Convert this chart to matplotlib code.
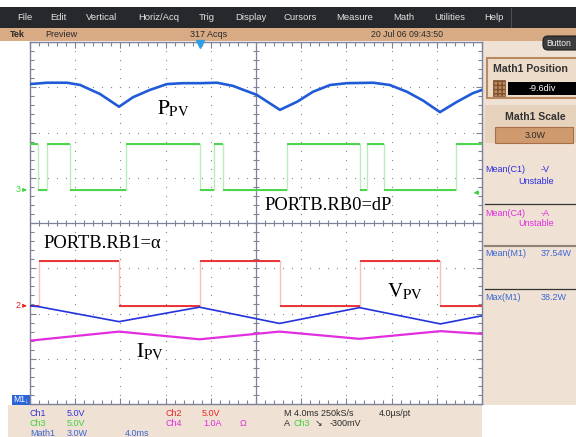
#
# Scope capture: PV power, voltage, current and the two MPPT port bits
#
import numpy as np
import matplotlib.pyplot as plt
from matplotlib.patches import Rectangle, FancyBboxPatch

plt.rcParams['font.family'] = ['Liberation Sans', 'DejaVu Sans']
plt.rcParams['mathtext.fontset'] = 'stix'

# Trace data, in screen divisions (10 x 8 div, 4 ms/div)
##########################################################################################

# Math1 = PV power
ppv_t = [0.00, 0.38, 0.82, 1.11, 1.55, 1.97, 2.28, 2.65, 3.03, 3.38, 3.76, 4.14, 4.49, 5.02,
         5.53, 5.91, 6.26, 6.64, 7.01, 7.59, 7.96, 8.34, 8.69, 9.07, 9.45, 9.80, 10.00]
ppv = [7.07, 7.10, 7.10, 7.05, 6.85, 6.57, 6.78, 6.94, 7.07, 7.09, 7.09, 7.10, 7.03, 6.83,
       6.50, 6.68, 6.90, 7.05, 7.09, 7.10, 7.05, 6.90, 6.71, 6.45, 6.68, 6.87, 6.94]

# Ch1 = PV voltage
vpv_t = [0.00, 0.20, 1.97, 3.75, 5.52, 7.29, 9.08, 10.00]
vpv = [2.17, 2.15, 1.82, 2.14, 1.78, 2.13, 1.77, 1.95]

# Ch4 = PV current
ipv_t = [0.00, 1.97, 3.75, 5.52, 7.29, 9.08, 10.00]
ipv = [1.40, 1.60, 1.43, 1.60, 1.44, 1.61, 1.55]

# Ch3 = PORTB.RB0 (sign of dP), edges and logic state of each segment
rb0_t = [0.00, 0.18, 0.37, 0.88, 2.12, 3.75, 4.08, 4.26, 5.69, 7.29, 7.46, 7.84, 9.42, 10.00]
rb0_bits = [1, 0, 1, 0, 1, 0, 1, 0, 1, 0, 1, 0, 1]
rb0_levels = (4.73, 5.74)

# Ch2 = PORTB.RB1 (alpha)
rb1_t = [0.00, 0.20, 1.97, 3.75, 5.52, 7.29, 9.08, 10.00]
rb1_bits = [0, 1, 0, 1, 0, 1, 0]
rb1_levels = (2.17, 3.16)

trig_level = -0.3      # V on Ch3, 5 V/div
menu_items = ['File', 'Edit', 'Vertical', 'Horiz/Acq', 'Trig', 'Display', 'Cursors',
              'Measure', 'Math', 'Utilities', 'Help']

W, H = 576, 437
L, R, T, B = 30, 482, 42, 404   # graticule in pixels

GRAT = '#7d8299'
BLUE_P = '#1f5bd6'
BLUE_V = '#2233dd'
GREEN = '#3fd43f'
RED = '#e8262a'
MAG = '#e02ee0'
MBLUE = '#3a66d6'
DARK = '#2b2b2b'
PANEL = '#efe1d3'


def to_px(xd, yd):
    return L + xd * (R - L) / 10, B - yd * (B - T) / 8


fig = plt.figure(figsize=(W / 100, H / 100), dpi=100)
fig.patch.set_facecolor('white')
bg = fig.add_axes([0, 0, 1, 1])
bg.set_xlim(0, W)
bg.set_ylim(H, 0)
bg.axis('off')


def box(x, y, w, h, fc, ec='none', lw=0, **kw):
    bg.add_patch(Rectangle((x, y), w, h, facecolor=fc, edgecolor=ec, linewidth=lw, **kw))


def label(x, y, s, color=DARK, size=6.5, **kw):
    bg.text(x, y, s, color=color, fontsize=size, va='center', **kw)


# menu bar + status bar
box(0, 7, W, 21, '#26282c')
menu_x = [17, 50, 86, 138, 199, 235, 284, 336, 393, 434, 484]
for name, x in zip(menu_items, menu_x):
    label(x, 17.5, name, color='#e2e2e2', size=6.8)
bg.plot([511, 511], [8, 27], color='#4c4e54', lw=0.8)

box(0, 28, W, 13, '#d9ab84')
label(10, 34.5, 'Tek', size=6.5, fontweight='bold')
label(45, 34.5, 'Preview', size=6.5)
label(190, 34.5, '317 Acqs', size=6.5)
label(371, 34.5, '20 Jul 06 09:43:50', size=6.3)

# side and bottom panels
box(482, 41, W - 482, 364, PANEL)
box(8, 405, 474, 32, PANEL)

bg.add_patch(FancyBboxPatch((543, 36), 40, 14, boxstyle='round,pad=0,rounding_size=5',
                            facecolor='#3c3c3c', edgecolor='#1e1e1e', linewidth=0.8))
label(546, 43.5, 'Button', color='#f0f0f0', size=6.2)

# Math1 position / scale controls
box(487, 58, 95, 40, '#eddcca', ec='#b98a62', lw=1.5)
label(493, 69, 'Math1 Position', color='#333333', size=7.6, fontweight='bold')
box(493, 80, 12, 16, '#c08a5c', ec='#7a5030', lw=0.5, hatch='++++')
box(508, 82, 72, 13, 'black')
label(542, 88.5, '-9.6div', color='white', size=6.5, ha='center')

box(485, 105, 95, 38, '#e7d2be')
label(535, 117, 'Math1 Scale', color='#333333', size=7.6, fontweight='bold', ha='center')
box(495, 127, 78, 16, '#cf9b6e', ec='#a87048', lw=0.8)
label(535, 135.5, '3.0W', color=DARK, size=6.5, ha='center')

# measurement readouts
label(485, 169, 'Mean(C1)', color='#2c2ce0')
label(541, 169, '-V', color='#2c2ce0')
label(518, 182, 'Unstable', color='#2c2ce0')
bg.plot([485, W], [204, 204], color='#333333', lw=0.9)
label(485, 213, 'Mean(C4)', color=MAG)
label(541, 213, '-A', color=MAG)
label(518, 223, 'Unstable', color=MAG)
bg.plot([485, W], [246, 246], color='#8f8477', lw=1.5)
label(485, 254, 'Mean(M1)', color=MBLUE)
label(541, 254, '37.54W', color=MBLUE)
bg.plot([485, W], [289, 289], color='#333333', lw=0.9)
label(485, 298, 'Max(M1)', color=MBLUE)
label(541, 298, '38.2W', color=MBLUE)

# channel settings
label(30, 414, 'Ch1', color='#3434d8')
label(67, 414, '5.0V', color='#3434d8')
label(166, 414, 'Ch2', color=RED)
label(202, 414, '5.0V', color=RED)
label(284, 414, 'M 4.0ms 250kS/s')
label(379, 414, '4.0\u00b5s/pt')
label(30, 424, 'Ch3', color=GREEN)
label(67, 424, '5.0V', color=GREEN)
label(166, 424, 'Ch4', color=MAG)
label(203, 424, '1.0A', color=MAG)
label(240, 424, '\u03a9', color=MAG)
label(284, 424, 'A')
label(293, 424, 'Ch3', color=GREEN)
label(315, 424, '\u2198')
label(330, 424, '-300mV')
label(30, 434, 'Math1', color=MBLUE)
label(67, 434, '3.0W', color=MBLUE)
label(125, 434, '4.0ms', color=MBLUE)

# ground markers on the left
for lvl, s, c in ((rb0_levels[0], '3', GREEN), (rb1_levels[0], '2', RED)):
    y = to_px(0, lvl)[1]
    label(16, y, s, color=c, size=6.5)
    bg.annotate('', xy=(29.5, y), xytext=(22, y),
                arrowprops=dict(arrowstyle='-|>', color=c, lw=0.8, mutation_scale=5))

box(12, 395, 18, 10, '#2c63d6')
label(13, 400, 'M1', color='white', size=6.2)
label(24.5, 401, '\u2193', color='white', size=5)

# Graticule
##########################################################################################
ax = fig.add_axes([L / W, 1 - B / H, (R - L) / W, (B - T) / H])
ax.set_xlim(0, 10)
ax.set_ylim(0, 8)
ax.set_facecolor('white')
for sp in ax.spines.values():
    sp.set_color(GRAT)
    sp.set_linewidth(1.0)
ax.set_xticks(np.arange(0, 11, 1))
ax.set_xticks(np.arange(0, 10.01, 0.2), minor=True)
ax.set_yticks(np.arange(0, 9, 1))
ax.set_yticks(np.arange(0, 8.01, 0.2), minor=True)
ax.tick_params(which='both', direction='in', top=True, right=True,
               labelbottom=False, labelleft=False, color=GRAT, width=0.8)
ax.tick_params(which='major', length=4.5)
ax.tick_params(which='minor', length=2.8)

gx = np.arange(0, 10.001, 0.2)
gy = np.arange(0, 8.001, 0.2)
for k in range(1, 10):
    if k != 5:
        ax.plot(np.full_like(gy, k), gy, ls='none', marker='s', ms=0.8, mew=0, color='#8a8a8a')
for k in range(1, 8):
    if k != 4:
        ax.plot(gx, np.full_like(gx, k), ls='none', marker='s', ms=0.8, mew=0, color='#8a8a8a')

ax.axhline(4, color=GRAT, lw=0.9)
ax.axvline(5, color=GRAT, lw=0.9)
ax.vlines(gx, 4 - 0.07, 4 + 0.07, color=GRAT, lw=0.8)
ax.hlines(gy, 5 - 0.07, 5 + 0.07, color=GRAT, lw=0.8)

# Traces
##########################################################################################


def digital(t, bits, levels, color, edge):
    y = [levels[b] for b in bits]
    ax.step(t, y + [y[-1]], where='post', color=edge, lw=1.0, zorder=3)
    ax.hlines(y, t[:-1], t[1:], color=color, lw=1.3, zorder=4)


digital(rb0_t, rb0_bits, rb0_levels, GREEN, '#b8ecb8')
digital(rb1_t, rb1_bits, rb1_levels, RED, '#f5c0c0')
ax.plot(vpv_t, vpv, color=BLUE_V, lw=1.2, zorder=5)
ax.plot(ipv_t, ipv, color=MAG, lw=1.6, zorder=5)
ax.plot(ppv_t, ppv, color=BLUE_P, lw=1.9, solid_joinstyle='round', zorder=5)

# trigger position and level markers
ax.plot(rb0_t[5], 7.95, marker='v', ms=5.5, color='#2e9fe3', clip_on=False, zorder=7)
trig_y = rb0_levels[0] + trig_level / 5.0
ax.annotate('', xy=(9.75, trig_y), xytext=(9.99, trig_y),
            arrowprops=dict(arrowstyle='-|>', color=GREEN, lw=0.9, mutation_scale=6))

# signal names


def note(xp, yp, s, size, **kw):
    ax.text(xp, yp, s, transform=bg.transData, fontsize=size, va='baseline',
            color='black', zorder=8, **kw)


note(157, 114, r'$\mathrm{P}_{\mathrm{PV}}$', 15)
note(264, 210, 'PORTB.RB0=dP', 13.3, family='Liberation Serif')
note(43, 248, 'PORTB.RB1=\u03b1', 13.3, family='Liberation Serif')
note(387, 297, r'$\mathrm{V}_{\mathrm{PV}}$', 15)
note(136, 357, r'$\mathrm{I}_{\mathrm{PV}}$', 15)

fig.savefig('out.png', dpi=100)
